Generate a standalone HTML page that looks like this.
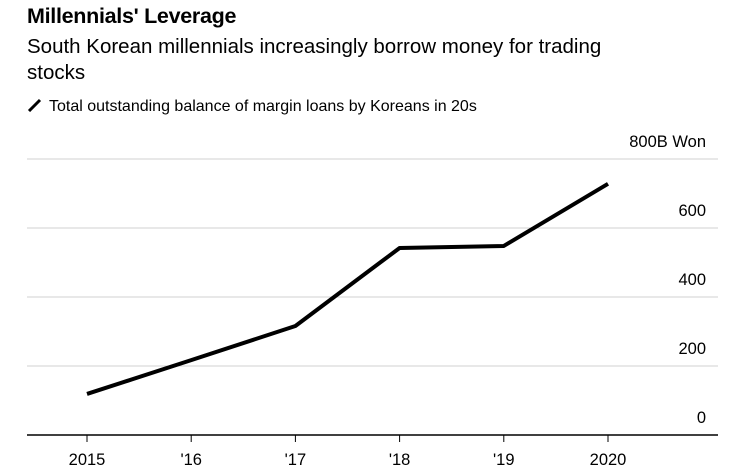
<!DOCTYPE html>
<html><head><meta charset="utf-8"><style>
body{margin:0;width:750px;height:475px;background:#fff;font-family:"Liberation Sans",sans-serif;overflow:hidden}
.t{position:absolute;left:27px;top:4px;font-size:21.5px;font-weight:bold;color:#000;letter-spacing:-0.3px}
.s{position:absolute;left:27px;top:34px;font-size:20.5px;color:#000;line-height:26px;width:680px}
.l{position:absolute;left:27px;top:98px;font-size:16px;color:#000}
</style></head><body>
<div class="t">Millennials' Leverage</div>
<div class="s">South Korean millennials increasingly borrow money for trading<br>stocks</div>
<div class="l"><svg width="16" height="14" style="vertical-align:-1px;margin-right:6px"><line x1="2" y1="13" x2="13" y2="2" stroke="#000" stroke-width="3"/></svg>Total outstanding balance of margin loans by Koreans in 20s</div>
<svg id="c" width="750" height="475" style="position:absolute;left:0;top:0"></svg>
<script>
const years=[2015,2016,2017,2018,2019,2020];
const xLabels=["2015","'16","'17","'18","'19","2020"];
const values=[119,217,316,542,548,728];
const yTicks=[0,200,400,600,800];
const yLabels=["0","200","400","600","800B Won"];
const ns="http://www.w3.org/2000/svg",svg=document.getElementById('c');
const x=v=>87+(v-2015)*104.2, y=v=>435-v*0.345;
function mk(t,a,p){const e=document.createElementNS(ns,t);for(const k in a)e.setAttribute(k,a[k]);(p||svg).appendChild(e);return e;}
yTicks.forEach((t,i)=>{
 if(t>0){const g=mk('line',{x1:27,x2:718,y1:y(t),y2:y(t),stroke:'#d0d0d0','stroke-width':1});
 
 }
 const tx=mk('text',{x:706,y:y(t)-12,'text-anchor':'end','font-size':16.5,fill:'#000'});
 tx.textContent=yLabels[i];
 
 
});
const ax=mk('line',{x1:27,x2:718,y1:435,y2:435,stroke:'#000','stroke-width':1.5});


years.forEach((yr,i)=>{
 const tk=mk('line',{x1:x(yr),x2:x(yr),y1:435,y2:442,stroke:'#000','stroke-width':1});
 
 
 const tx=mk('text',{x:x(yr),y:465,'text-anchor':'middle','font-size':16.5,fill:'#000'});
 tx.textContent=xLabels[i];
 
 
});
const ln=mk('polyline',{points:years.map((yr,i)=>x(yr)+','+y(values[i])).join(' '),fill:'none',stroke:'#000','stroke-width':4,'stroke-linejoin':'round'});


</script>
</body></html>
